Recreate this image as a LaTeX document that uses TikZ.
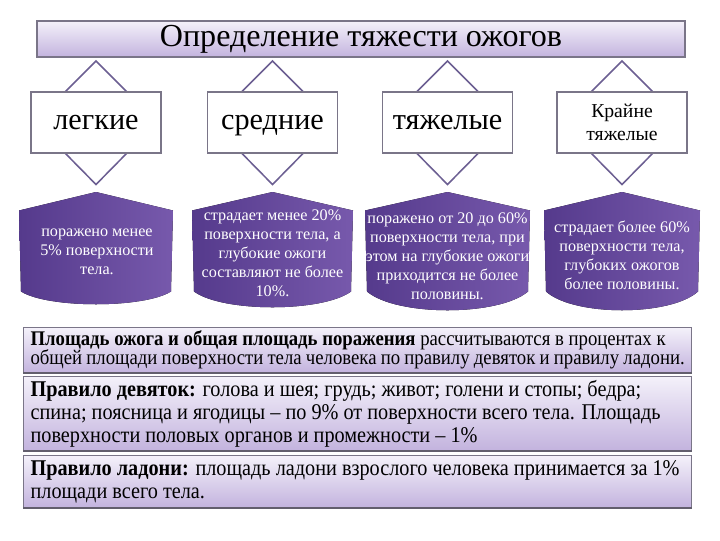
\documentclass[tikz,border=0pt]{standalone}
\usepackage{fontspec}
\setmainfont{Liberation Serif}
\newfontfamily\notefont[FakeStretch=0.9]{Liberation Serif}
\usetikzlibrary{calc}

\definecolor{framegray}{HTML}{7A7588}
\definecolor{arrowline}{HTML}{6C5F92}
\definecolor{lilactop}{HTML}{F4F1FA}
\definecolor{lilacbot}{HTML}{C3B3DE}
\definecolor{plumdark}{HTML}{553A8C}
\definecolor{plumlight}{HTML}{7759AC}

\begin{document}
\begin{tikzpicture}[x=0.025cm,y=-0.025cm,
  headbox/.style={draw=framegray,line width=0.9pt,top color=lilactop,bottom color=lilacbot,
    minimum width=16.2cm,minimum height=0.9cm,inner sep=0pt,
    font=\fontsize{22.8}{24}\selectfont},
  updown/.style={draw=arrowline,line width=1.1pt,fill=white,line join=miter},
  levelbox/.style={draw=framegray,line width=0.9pt,fill=white,
    minimum width=3.25cm,minimum height=1.525cm,inner sep=2pt,align=center},
  bigword/.style={font=\fontsize{21.5}{24}\selectfont,text height=10.5pt,text depth=0pt},
  plumshape/.style={left color=plumdark,right color=plumlight},
  desctext/.style={text=white,align=center,inner sep=0pt,
    font=\fontsize{11.5}{13.5}\selectfont},
  notebox/.style={draw=framegray,line width=0.8pt,top color=lilactop,bottom color=lilacbot,
    text width=16.35cm,inner xsep=0.175cm,inner ysep=0pt,align=flush left,anchor=north west}
]
  \useasboundingbox (0,0) rectangle (720,540);

  % column centres
  \coordinate (c1) at (96,122.5);
  \coordinate (c2) at (272.5,122.5);
  \coordinate (c3) at (447.5,122.5);
  \coordinate (c4) at (622,122.5);

  \node[headbox] (title) at (361,39) {Определение тяжести ожогов};

  % double arrows behind the level boxes
  \foreach \c in {c1,c2,c3,c4}
    \draw[updown] ($(\c)+(0,-61.5)$) -- ($(\c)+(31,-30.5)$) -- ($(\c)+(16,-30.5)$)
      -- ($(\c)+(16,30.5)$) -- ($(\c)+(31,30.5)$) -- ($(\c)+(0,62)$)
      -- ($(\c)+(-31,30.5)$) -- ($(\c)+(-16,30.5)$) -- ($(\c)+(-16,-30.5)$)
      -- ($(\c)+(-31,-30.5)$) -- cycle;

  \node[levelbox,bigword] (lvl1) at (c1) {легкие};
  \node[levelbox,bigword] (lvl2) at (c2) {средние};
  \node[levelbox,bigword] (lvl3) at (c3) {тяжелые};
  \node[levelbox,font=\fontsize{14}{16}\selectfont] (lvl4) at (c4) {Крайне\\тяжелые};

  % purple description shapes (centre, half width, depth)
  \foreach \c/\w/\d in {c1/77/186,c2/80.5/190,c3/82.5/194,c4/78/194}
    \fill[plumshape] ($(\c)+(0,69.5)$) -- ($(\c)+(\w,88)$) -- ($(\c)+(\w-2,169)$)
      .. controls ($(\c)+(\w*0.62,\d)$) and ($(\c)+(-\w*0.62,\d)$) .. ($(\c)+(-\w+2,169)$)
      -- ($(\c)+(-\w,88)$) -- cycle;

  \node[desctext] (desc1) at ($(c1)+(1,129)$) {поражено менее\\5\% поверхности\\тела.};
  \node[desctext] (desc2) at ($(c2)+(0,131)$) {страдает менее 20\%\\поверхности тела, а\\глубокие ожоги\\составляют не более\\10\%.};
  \node[desctext] (desc3) at ($(c3)+(0,134)$) {поражено от 20 до 60\%\\поверхности тела, при\\этом на глубокие ожоги\\приходится не более\\половины.};
  \node[desctext] (desc4) at ($(c4)+(0,133)$) {страдает более 60\%\\поверхности тела,\\глубоких ожогов\\более половины.};

  % notes below
  \node[notebox,minimum height=1.125cm,font=\notefont\fontsize{14.8}{13.8}\selectfont] (note1) at (23,327)
    {\textbf{Площадь ожога и общая площадь поражения} рассчитываются в процентах к\\
     общей площади поверхности тела человека по правилу девяток и правилу ладони.};
  \node[notebox,minimum height=1.85cm,font=\notefont\fontsize{16}{16.2}\selectfont] (note2) at (23,376)
    {\textbf{Правило девяток:} голова и шея; грудь; живот; голени и стопы; бедра;\\
     спина; поясница и ягодицы – по 9\% от поверхности всего тела. Площадь\\
     поверхности половых органов и промежности – 1\%};
  \node[notebox,minimum height=1.3cm,font=\notefont\fontsize{16}{16.2}\selectfont] (note3) at (23,455)
    {\textbf{Правило ладони:} площадь ладони взрослого человека принимается за 1\%\\
     площади всего тела.};
  \foreach \n in {note1,note2,note3}
    \draw[framegray!80!black,line width=1.4pt] (\n.south west) -- (\n.south east);
\end{tikzpicture}
\end{document}
